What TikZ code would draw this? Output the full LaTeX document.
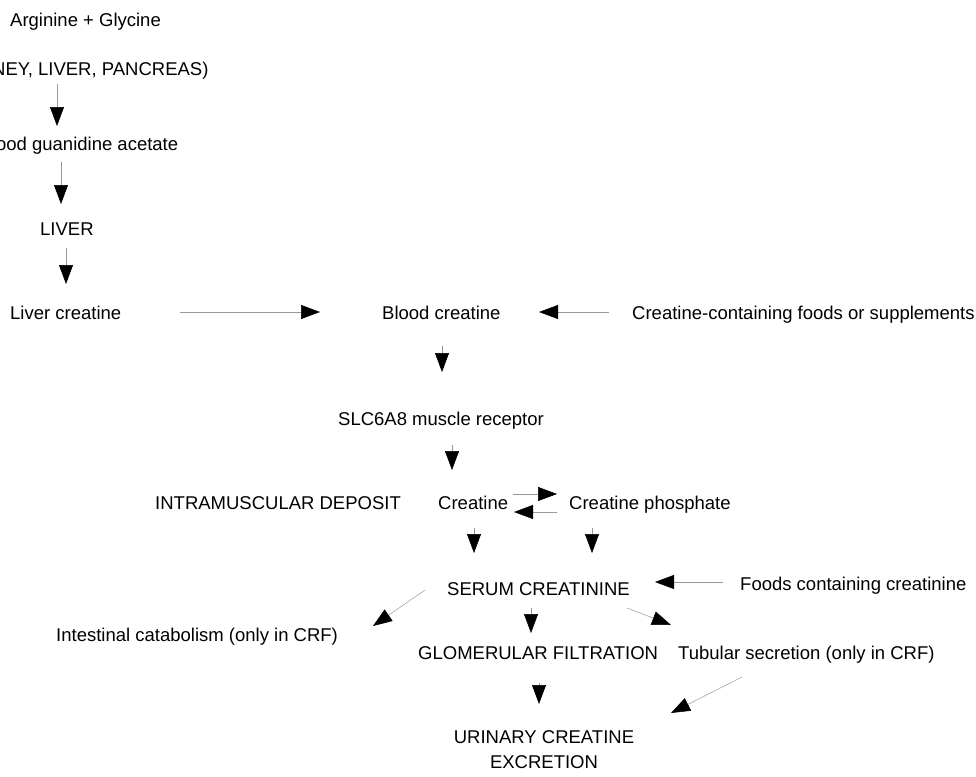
\documentclass[tikz,border=0pt]{standalone}
\usepackage{fontspec}
\setmainfont{Liberation Sans}
\usetikzlibrary{arrows.meta}

\tikzset{
  txt/.style={inner sep=0pt, anchor=base west},
  flow/.style={draw=black!40, line width=0.5pt,
    -{Triangle[length=19pt,width=14pt,color=black]}}
}

\begin{document}
\begin{tikzpicture}[x=1pt, y=-1pt, font=\fontsize{18.5}{25}\selectfont]
      \useasboundingbox (0,0) rectangle (976,776);
      \clip (0,0) rectangle (976,776);
      \def \Nodes {
        arg/10/27/Arginine + Glycine,
        kid/-45/75/{(KIDNEY, LIVER, PANCREAS)},
        guan/-20.5/150/Blood guanidine acetate,
        liver/40/235/LIVER,
        livcr/10/319/Liver creatine,
        bcr/382/319/Blood creatine,
        foods/632/319/Creatine-containing foods or supplements,
        slc/338/425/SLC6A8 muscle receptor,
        intra/155/509/INTRAMUSCULAR DEPOSIT,
        crea/438/509/Creatine,
        cp/569/509/Creatine phosphate,
        serum/447/595/SERUM CREATININE,
        fcr/740/590/Foods containing creatinine,
        intest/56/641/Intestinal catabolism (only in CRF),
        glom/418/659/GLOMERULAR FILTRATION,
        tub/678/659/Tubular secretion (only in CRF)}
      \def \Arrows {
        57/84/57/126,
        61/162/61/204,
        66/248/66/284,
        180/312/320/312,
        609/312/539/312,
        442/346/442/372,
        452/445/452/470,
        513/494/557/494,
        557/512/514/512,
        474/528/474/553,
        592/528/592/553,
        723/582/655/582,
        425/590/373/626,
        531/608/531/633,
        627/608/671/625,
        742/677/671/713,
        539/683/539/704}

      \foreach \id / \x / \y / \t in \Nodes {
        \node[txt] (\id) at (\x, \y) {\t};
      }
      \node[align=center, inner sep=0pt] (urin) at (544, 750) {URINARY CREATINE\\EXCRETION};
      \foreach \xa / \ya / \xb / \yb [count=\i] in \Arrows {
        \coordinate (s\i) at (\xa, \ya);
        \coordinate (e\i) at (\xb, \yb);
        \draw[flow] (s\i) -- (e\i);
      }
    \end{tikzpicture}
\end{document}
